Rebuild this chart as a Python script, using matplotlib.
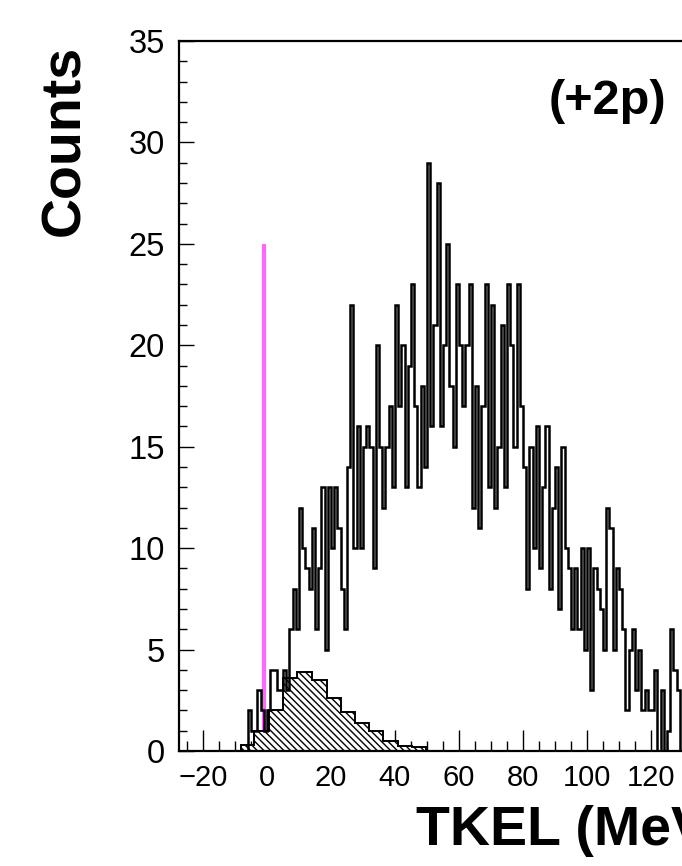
import numpy as np
import matplotlib
matplotlib.use("Agg")
import matplotlib.pyplot as plt
from matplotlib.ticker import MultipleLocator

plt.rcParams['font.family'] = ['Liberation Sans', 'DejaVu Sans']
plt.rcParams['hatch.linewidth'] = 1.0

# ---- data ----
# black histogram: 1 MeV bins starting at -10 MeV
black_start = -10
black_counts = [
    0, 0, 0, 0, 2, 1, 1, 3, 2, 1,          # -10 .. -1
    2, 4, 4, 3, 3, 4, 3, 6, 8, 6,          # 0 .. 9
    12, 10, 9, 8, 11, 6, 9, 13, 5, 13,     # 10 .. 19
    10, 13, 11, 8, 6, 14, 22, 10, 16, 10,  # 20 .. 29
    15, 16, 15, 9, 20, 15, 12, 15, 17, 13, # 30 .. 39
    22, 17, 20, 13, 19, 23, 17, 13, 18, 14,# 40 .. 49
    29, 16, 21, 28, 16, 20, 25, 18, 15, 23,# 50 .. 59
    20, 17, 20, 23, 12, 18, 11, 17, 23, 13,# 60 .. 69
    22, 12, 15, 21, 13, 23, 20, 15, 23, 17,# 70 .. 79
    14, 8, 15, 10, 16, 9, 13, 16, 8, 12,   # 80 .. 89
    14, 7, 15, 10, 9, 6, 9, 6, 10, 5,      # 90 .. 99
    10, 3, 9, 8, 7, 5, 12, 11, 5, 9,       # 100 .. 109
    8, 6, 2, 5, 6, 3, 5, 2, 3, 2,          # 110 .. 119
    2, 4, 0, 3, 0, 1, 6, 4, 3, 0,          # 120 .. 129
]
black_edges = black_start + np.arange(len(black_counts) + 1)

# hatched histogram
hatch_edges = [-8.0, -4.0, 0.5, 5.0, 9.4, 14.0, 18.6, 23.2, 27.6, 32.0,
               36.4, 40.8, 45.2, 49.6]
hatch_counts = [0.3, 1.0, 2.0, 3.6, 3.9, 3.5, 2.6, 1.9, 1.4, 1.0, 0.5, 0.25, 0.2]

# magenta marker line
marker_x = -1
marker_top = 25

x_major = [-20, 0, 20, 40, 60, 80, 100, 120]
y_major = [0, 5, 10, 15, 20, 25, 30, 35]

# ---- figure ----
fig = plt.figure(figsize=(6.82, 8.66), dpi=100)
ax = fig.add_axes([0.26246, 0.13279, 0.83284, 0.81986])

ax.vlines(marker_x, 0, marker_top, color='#ff66ff', lw=3.0, zorder=1)
ax.stairs(hatch_counts, hatch_edges, fill=True, facecolor='white',
          edgecolor='black', hatch='\\\\\\\\\\', lw=1.4, zorder=2)
ax.stairs(black_counts, black_edges, color='black', lw=1.8, zorder=3)

ax.set_xlim(-27.5, 150)
ax.set_ylim(0, 35)
ax.set_xticks(x_major)
ax.set_yticks(y_major)
ax.xaxis.set_minor_locator(MultipleLocator(5))
ax.yaxis.set_minor_locator(MultipleLocator(1))
ax.tick_params(axis='x', which='major', direction='in', length=15, width=1.0,
               labelsize=21, pad=9)
ax.tick_params(axis='x', which='minor', direction='in', length=7, width=1.0)
ax.tick_params(axis='y', which='major', direction='in', length=11, width=1.0,
               labelsize=23.5, pad=10)
ax.tick_params(axis='y', which='minor', direction='in', length=5.5, width=1.0)
for s in ax.spines.values():
    s.set_linewidth(1.6)

ax.text(88, 32, '(+2p)', fontsize=35, fontweight='bold', ha='left', va='center')

fig.text(65 / 682, 1 - 140 / 866, 'Counts', rotation=90, fontsize=40,
         fontweight='bold', ha='center', va='center')
fig.text(416 / 682, 1 - 831 / 866, 'TKEL (MeV)', fontsize=40,
         fontweight='bold', ha='left', va='center')

fig.savefig('out.png', dpi=100)
